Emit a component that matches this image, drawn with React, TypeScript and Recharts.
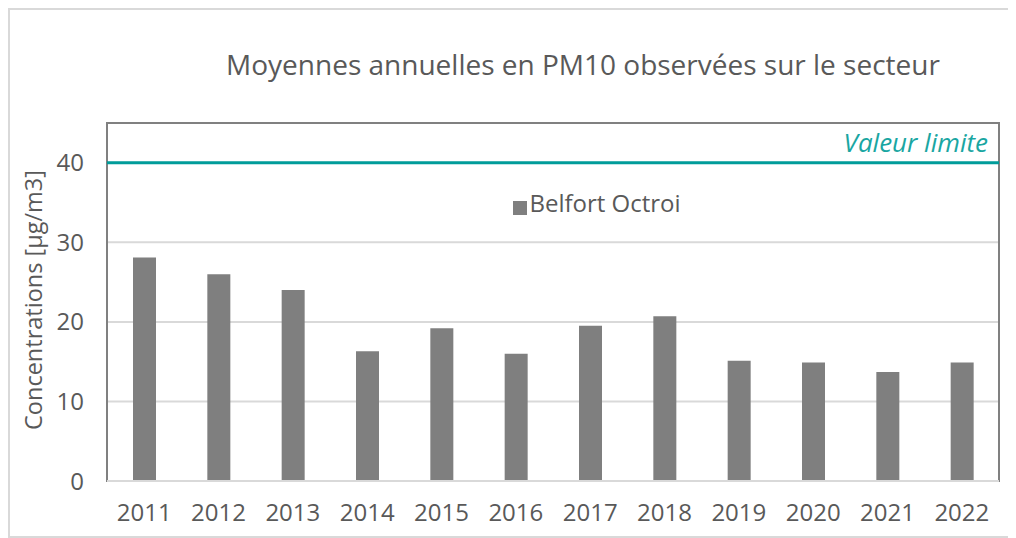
import React from "react";
import {
  BarChart,
  Bar,
  XAxis,
  YAxis,
  CartesianGrid,
  ReferenceLine,
  ReferenceArea,
  Legend
} from "recharts";

const years = ["2011", "2012", "2013", "2014", "2015", "2016", "2017", "2018", "2019", "2020", "2021", "2022"];
const belfortOctroi = [28.1, 26.0, 24.0, 16.3, 19.2, 16.0, 19.5, 20.7, 15.1, 14.9, 13.7, 14.9];
const yTicks = [0, 10, 20, 30, 40];
const valeurLimite = 40;

const data = years.map((y, i) => ({ year: y, belfort: belfortOctroi[i] }));

const FONT = "'Open Sans', sans-serif";
const GREY_TEXT = "#595959";
const TEAL = "#009c9a";

const YLabel = (props: any) => {
  const vb = props.viewBox;
  const cx = 23;
  const cy = vb.y + vb.height / 2 - 2;
  return (
    <text
      x={cx}
      y={cy}
      transform={`rotate(-90, ${cx}, ${cy})`}
      textAnchor="middle"
      dominantBaseline="central"
      fill={GREY_TEXT}
      fontSize={23.5}
      fontFamily={FONT}
    >
      Concentrations [µg/m3]
    </text>
  );
};

const App = () => {
  return (
    <div
      style={{
        position: "relative",
        width: 1000,
        height: 526,
        border: "2px solid #d9d9d9",
        background: "#fff",
        fontFamily: FONT
      }}
    >
      <div
        style={{
          position: "absolute",
          left: 0,
          width: 1146,
          top: 35,
          textAlign: "center",
          fontSize: 28,
          color: GREY_TEXT,
          whiteSpace: "nowrap"
        }}
      >
        Moyennes annuelles en PM10 observées sur le secteur
      </div>
      <BarChart
        width={1000}
        height={526}
        data={data}
        margin={{ top: 113, right: 11, bottom: 15, left: 37 }}
        barCategoryGap={0}
      >
        <CartesianGrid vertical={false} stroke="#d9d9d9" strokeWidth={2} />
        <ReferenceArea y1={0} y2={45} fill="none" stroke="#808080" strokeWidth={2} />
        <XAxis
          dataKey="year"
          axisLine={{ stroke: "#d9d9d9", strokeWidth: 2 }}
          tickLine={false}
          tickMargin={17}
          height={40}
          tick={{ fill: GREY_TEXT, fontSize: 24, fontFamily: FONT }}
          interval={0}
        />
        <YAxis
          domain={[0, 45]}
          ticks={yTicks}
          width={60}
          axisLine={false}
          tickLine={false}
          tickMargin={17}
          tick={{ fill: GREY_TEXT, fontSize: 24, fontFamily: FONT }}
          label={<YLabel />}
        />
        <Legend
          layout="horizontal"
          verticalAlign="middle"
          align="center"
          iconType="square"
          iconSize={14}
          wrapperStyle={{ top: 176, left: 472, width: 240, textAlign: "left" }}
          formatter={(v: string) => (
            <span style={{ color: GREY_TEXT, fontSize: 24, fontFamily: FONT, marginLeft: -2 }}>{v}</span>
          )}
        />
        <Bar
          dataKey="belfort"
          name="Belfort Octroi"
          fill="#7f7f7f"
          barSize={23}
          isAnimationActive={false}
        />
        <ReferenceLine
          y={valeurLimite}
          stroke={TEAL}
          strokeWidth={3}
          label={{
            value: "Valeur limite",
            position: "insideBottomRight",
            fill: "#1aa6a2",
            fontSize: 26,
            fontStyle: "italic",
            fontFamily: FONT,
            offset: 11
          }}
        />
      </BarChart>
    </div>
  );
};

export default App;
